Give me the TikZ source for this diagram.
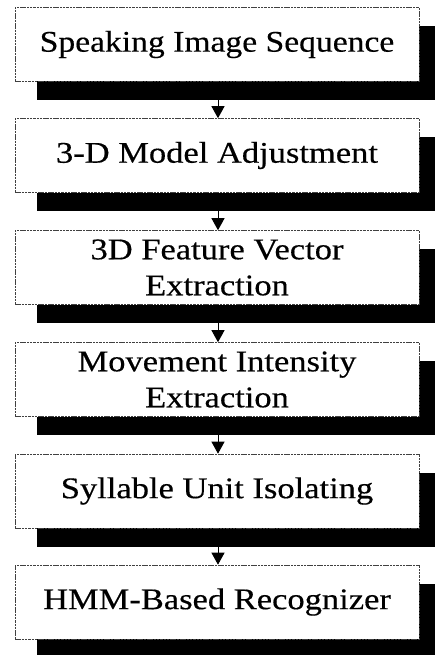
\documentclass[tikz,border=0pt]{standalone}
\usepackage{graphicx}
\usepackage{fontspec}
\setmainfont{Liberation Serif}
\newfontfamily\scanfont{Liberation Serif}[FakeBold=0.35]
\usetikzlibrary{arrows.meta}
\newcommand{\sx}[2][1.15]{\scalebox{#1}[1]{#2}}
\begin{document}
\begin{tikzpicture}[x=1pt,y=-1pt,
  stage/.style={draw=black!75, line width=0.6pt, dash pattern=on 2.5pt off 0.8pt,
    fill=white, minimum width=404pt, minimum height=74pt, inner sep=0pt,
    align=center, font=\scanfont\fontsize{30}{36}\selectfont},
  shade/.style={fill=black, minimum width=404pt, minimum height=74pt, inner sep=0pt},
  arr/.style={line width=1pt, -{Triangle[length=12pt,width=13pt]}}]
\useasboundingbox (0,0) rectangle (435,655);
\clip (0,0) rectangle (435,655);
% shadows
\node[shade] (s1) at (239,63) {};
\node[shade] (s2) at (239,174) {};
\node[shade] (s3) at (239,286) {};
\node[shade] (s4) at (239,398) {};
\node[shade] (s5) at (239,509.5) {};
\node[shade] (s6) at (239,620.5) {};
% boxes
\node[stage] (b1) at (217,44.5) {\sx[1.12]{Speaking Image Sequence}};
\node[stage] (b2) at (217,155.5) {\sx{3-D Model Adjustment}};
\node[stage] (b3) at (217,267.5) {\sx{3D Feature Vector}\\\sx{Extraction}};
\node[stage] (b4) at (217,379.5) {\sx{Movement Intensity}\\\sx{Extraction}};
\node[stage] (b5) at (217,491) {\sx{Syllable Unit Isolating}};
\node[stage] (b6) at (217,602) {\sx{HMM-Based Recognizer}};
% arrows
\draw[arr] ([xshift=1pt]b1.south |- s1.south) -- ([xshift=1pt]b2.north);
\draw[arr] ([xshift=1pt]b2.south |- s2.south) -- ([xshift=1pt]b3.north);
\draw[arr] ([xshift=1pt]b3.south |- s3.south) -- ([xshift=1pt]b4.north);
\draw[arr] ([xshift=1pt]b4.south |- s4.south) -- ([xshift=1pt]b5.north);
\draw[arr] ([xshift=1pt]b5.south |- s5.south) -- ([xshift=1pt]b6.north);
\end{tikzpicture}
\end{document}
